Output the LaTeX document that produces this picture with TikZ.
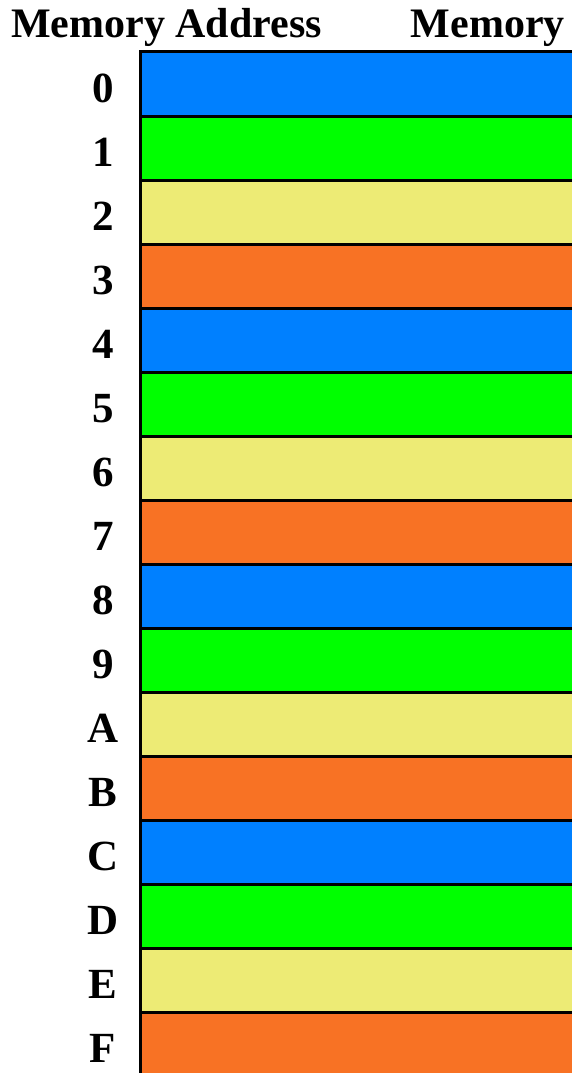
\documentclass[tikz,border=0pt]{standalone}
\usepackage{fontspec}
\setmainfont{Liberation Serif}
\definecolor{cblue}{RGB}{0,128,255}
\definecolor{cgreen}{RGB}{0,255,0}
\definecolor{cyellow}{RGB}{237,235,117}
\definecolor{corange}{RGB}{248,114,36}
\begin{document}
\begin{tikzpicture}[x=1pt,y=-1pt,
  cell/.style={draw=black,line width=3pt,minimum width=440pt,minimum height=64pt,inner sep=0pt,outer sep=0pt},
  addr/.style={anchor=base,inner sep=0pt,font=\fontsize{43}{48}\selectfont\bfseries},
  head/.style={inner sep=0pt,font=\fontsize{42}{48}\selectfont\bfseries}]
\useasboundingbox (0,0) rectangle (572,1073);
\foreach \lab/\col [count=\k from 0] in {0/cblue,1/cgreen,2/cyellow,3/corange,4/cblue,5/cgreen,6/cyellow,7/corange,8/cblue,9/cgreen,A/cyellow,B/corange,C/cblue,D/cgreen,E/cyellow,F/corange}{
  \node[cell,fill=\col] (m\lab) at (360,84+64*\k) {};
  \node[addr] (a\lab) at (103,102.7+64*\k) {\lab};
}
\node[head,anchor=base west] (h1) at (11,37.7) {Memory Address};
\node[head,anchor=base east] (h2) at (565,37.7) {Memory};
\end{tikzpicture}
\end{document}
